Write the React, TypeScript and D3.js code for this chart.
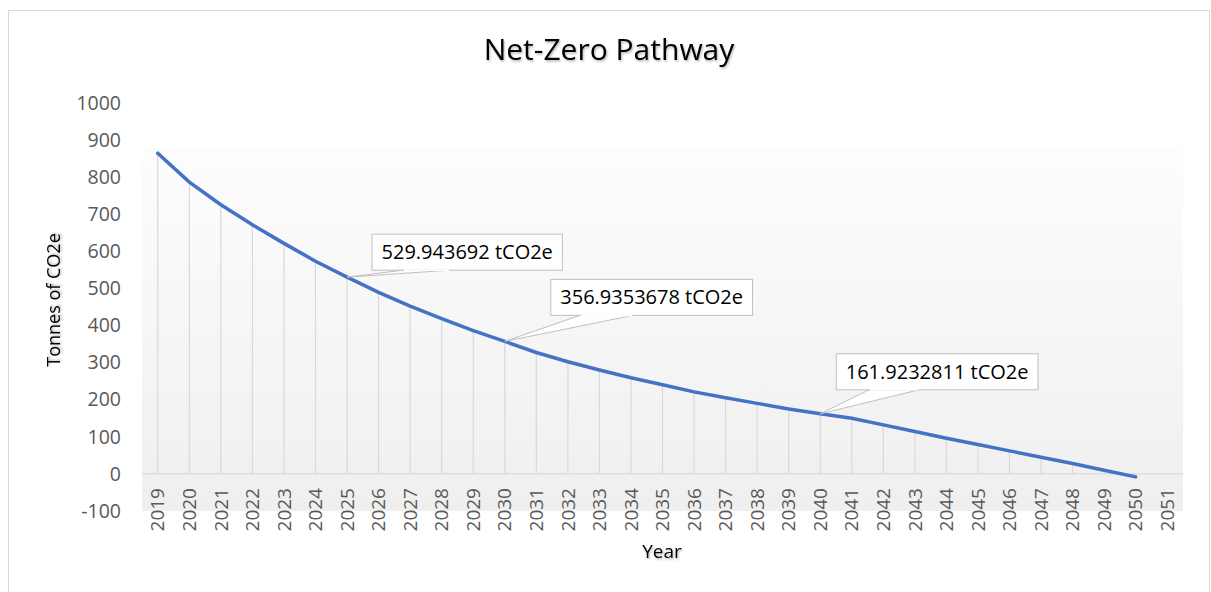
import React, { useEffect, useRef } from 'react';
import * as d3 from 'd3';

// chart data
const years = [
  2019, 2020, 2021, 2022, 2023, 2024, 2025, 2026, 2027, 2028, 2029,
  2030, 2031, 2032, 2033, 2034, 2035, 2036, 2037, 2038, 2039, 2040,
  2041, 2042, 2043, 2044, 2045, 2046, 2047, 2048, 2049, 2050, 2051,
];
const emissions: (number | null)[] = [
  864, 786, 725, 671, 621, 573, 529.943692, 489, 452, 418, 386,
  356.9353678, 327, 302, 280, 259, 240, 221, 205, 190, 175, 161.9232811,
  150, 132, 114, 96, 79, 62, 45, 28, 10, -8, null,
];
const yTicks = [-100, 0, 100, 200, 300, 400, 500, 600, 700, 800, 900, 1000];
const calloutYears = [2025, 2030, 2040];
// callout box offsets from the point: [dx, dy, wedge start, wedge end]
const calloutOffsets = [
  [25, -43, 31, 78],
  [46, -62, 29, 82],
  [16, -60, 33, 83],
];

const FONT = '"Open Sans", "Noto Sans", sans-serif';

function NetZeroChart() {
  const ref = useRef<SVGSVGElement>(null);

  useEffect(() => {
    const svg = d3.select(ref.current);
    svg.selectAll('*').remove();

    const left = 142, right = 1183, top = 102.7, bottom = 511;

    const x = d3.scaleBand<string>()
      .domain(years.map(String))
      .range([left, right]);
    const cx = (yr: number) => (x(String(yr)) as number) + x.bandwidth() / 2;

    const y = d3.scaleLinear().domain([-100, 1000]).range([bottom, top]);

    const defs = svg.append('defs');
    const grad = defs.append('linearGradient')
      .attr('id', 'plotBg')
      .attr('x1', 0).attr('y1', 0).attr('x2', 0).attr('y2', 1);
    grad.append('stop').attr('offset', '0%').attr('stop-color', '#fdfdfd');
    grad.append('stop').attr('offset', '100%').attr('stop-color', '#efefef');

    const shadow = defs.append('filter').attr('id', 'txtShadow')
      .attr('x', '-10%').attr('y', '-30%').attr('width', '120%').attr('height', '160%');
    shadow.append('feDropShadow')
      .attr('dx', 1).attr('dy', 1.5).attr('stdDeviation', 1)
      .attr('flood-color', '#000').attr('flood-opacity', 0.3);

    // chart area border
    svg.append('rect')
      .attr('x', 8.5).attr('y', 10.5)
      .attr('width', 1201).attr('height', 620)
      .attr('fill', '#fff')
      .attr('stroke', '#d9d9d9');

    // plot area
    svg.append('rect')
      .attr('x', left).attr('y', 149)
      .attr('width', right - left).attr('height', bottom - 149)
      .attr('fill', 'url(#plotBg)');

    // zero line
    svg.append('line')
      .attr('x1', left).attr('x2', right)
      .attr('y1', y(0)).attr('y2', y(0))
      .attr('stroke', '#d9d9d9').attr('stroke-width', 1.2);

    const points = years
      .map((yr, i) => ({ yr, v: emissions[i] }))
      .filter(d => d.v !== null) as { yr: number; v: number }[];

    // drop lines
    svg.append('g').selectAll('line')
      .data(points)
      .join('line')
      .attr('x1', d => cx(d.yr)).attr('x2', d => cx(d.yr))
      .attr('y1', d => y(d.v)).attr('y2', y(0))
      .attr('stroke', '#d9d9d9').attr('stroke-width', 1.2);

    // y axis labels
    svg.append('g').selectAll('text')
      .data(yTicks)
      .join('text')
      .attr('x', 121)
      .attr('y', d => y(d))
      .attr('dy', '0.35em')
      .attr('text-anchor', 'end')
      .style('font-family', FONT)
      .style('font-size', '19.5px')
      .attr('fill', '#595959')
      .text(d => d);

    // x axis labels
    svg.append('g').selectAll('text')
      .data(years)
      .join('text')
      .attr('transform', d => `translate(${cx(d)}, 488) rotate(-90)`)
      .attr('dy', '0.35em')
      .attr('text-anchor', 'end')
      .style('font-family', FONT)
      .style('font-size', '19px')
      .attr('fill', '#595959')
      .text(d => d);

    // series line
    const line = d3.line<{ yr: number; v: number }>()
      .x(d => cx(d.yr))
      .y(d => y(d.v));
    svg.append('path')
      .datum(points)
      .attr('d', line)
      .attr('fill', 'none')
      .attr('stroke', '#4472c4')
      .attr('stroke-width', 3.5)
      .attr('stroke-linejoin', 'round')
      .attr('stroke-linecap', 'round');

    // callouts
    calloutYears.forEach((yr, i) => {
      const v = emissions[years.indexOf(yr)] as number;
      const px = cx(yr), py = y(v);
      const [dx, dy, w0, w1] = calloutOffsets[i];
      const bx = px + dx, by = py + dy;
      const g = svg.append('g');
      const txt = g.append('text')
        .attr('x', 0).attr('y', 0)
        .style('font-family', FONT)
        .style('font-size', '20px')
        .attr('fill', '#000')
        .text(`${v} tCO2e`);
      const tw = (txt.node() as SVGTextElement).getComputedTextLength();
      const bw = tw + 19, bh = 36;
      g.insert('path', 'text')
        .attr('d', `M${px},${py} L${bx + w0},${by + bh} L${bx + w1},${by + bh} Z`)
        .attr('fill', '#fff')
        .attr('stroke', '#bfbfbf');
      g.insert('rect', 'text')
        .attr('x', bx).attr('y', by)
        .attr('width', bw).attr('height', bh)
        .attr('fill', '#fff')
        .attr('stroke', '#bfbfbf');
      // hide the wedge's top edge inside the box
      g.insert('line', 'text')
        .attr('x1', bx + w0 + 0.8).attr('x2', bx + w1 - 0.8)
        .attr('y1', by + bh).attr('y2', by + bh)
        .attr('stroke', '#fff').attr('stroke-width', 1.5);
      txt.attr('x', bx + bw / 2).attr('y', by + bh / 2)
        .attr('dy', '0.35em')
        .attr('text-anchor', 'middle');
    });

    // title
    svg.append('text')
      .attr('x', 609).attr('y', 60)
      .attr('text-anchor', 'middle')
      .style('font-family', FONT)
      .style('font-size', '30px')
      .attr('fill', '#000')
      .attr('filter', 'url(#txtShadow)')
      .text('Net-Zero Pathway');

    // axis titles
    svg.append('text')
      .attr('x', 662).attr('y', 558)
      .attr('text-anchor', 'middle')
      .style('font-family', FONT)
      .style('font-size', '19px')
      .attr('fill', '#000')
      .attr('filter', 'url(#txtShadow)')
      .text('Year');

    svg.append('text')
      .attr('transform', 'translate(60, 300) rotate(-90)')
      .attr('text-anchor', 'middle')
      .style('font-family', FONT)
      .style('font-size', '18px')
      .attr('fill', '#000')
      .attr('filter', 'url(#txtShadow)')
      .text('Tonnes of CO2e');
  }, []);

  return (
    <svg
      ref={ref}
      width={1211}
      height={592}
      style={{ position: 'absolute', left: 0, top: 0, background: '#fff' }}
    />
  );
}

export default function App() {
  return <NetZeroChart />;
}
